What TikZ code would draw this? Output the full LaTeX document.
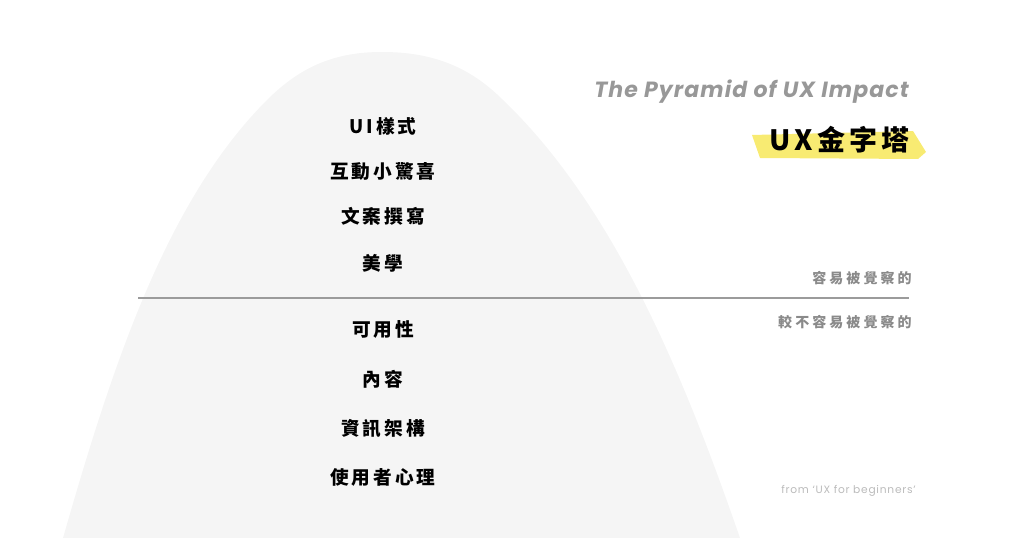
\documentclass[tikz,border=0pt]{standalone}
\usepackage{fontspec}
\usepackage{xcolor}
\usepackage{tikz}
\setmainfont{Poppins}
\newfontfamily\cjk{Noto Sans CJK TC}
\newfontfamily\titlefont{Poppins}
\definecolor{hillgray}{HTML}{F5F5F5}
\definecolor{rulegray}{HTML}{9B9B9B}
\definecolor{notegray}{HTML}{8A8A8A}
\definecolor{srcgray}{HTML}{BBBBBB}
\definecolor{titlegray}{HTML}{989898}
\definecolor{marker}{HTML}{F8EB72}

\begin{document}
\begin{tikzpicture}[
                x=0.75pt, y=-0.75pt,
                layer/.style={inner sep=0pt, font=\cjk\bfseries\fontsize{14}{16}\selectfont\addfontfeature{LetterSpace=16}},
                note/.style={inner sep=0pt, anchor=east, text=notegray, font=\cjk\bfseries\fontsize{10.5}{12}\selectfont\addfontfeature{LetterSpace=22}},
                heading/.style={inner sep=0pt, anchor=east, font=\cjk\bfseries\fontsize{21}{24}\selectfont\addfontfeature{LetterSpace=15}},
                subheading/.style={inner sep=0pt, anchor=east, text=titlegray, font=\titlefont\bfseries\itshape\fontsize{16.5}{19}\selectfont\addfontfeature{LetterSpace=5}}
            ]
            \useasboundingbox (0,0) rectangle (1024,538);
            % Hill
            \fill[hillgray] (63,538) .. controls (113,363) and (167,200) .. (267,100)
                .. controls (302,65) and (337,52) .. (382,52)
                .. controls (430,52) and (468,65) .. (503,100)
                .. controls (618,210) and (688,388) .. (740,538) -- cycle;
            % Marker stroke
            \fill[marker] (752,135) -- (913,131) -- (926,152) -- (918,159) -- (760,158) -- cycle;
            % Nodes
            \node[layer] (ui) at (383,126) {UI樣式};
            \node[layer] (delight) at (383,171) {互動小驚喜};
            \node[layer] (copy) at (383,216) {文案撰寫};
            \node[layer] (aesthetic) at (383,263) {美學};
            \node[layer] (usability) at (383,329) {可用性};
            \node[layer] (content) at (383,379) {內容};
            \node[layer] (ia) at (383,429) {資訊架構};
            \node[layer] (psych) at (383,477) {使用者心理};
            \node[subheading] (title) at (909,92) {The Pyramid of UX Impact};
            \node[heading] (uxtitle) at (910,140) {UX金字塔};
            \node[note] (visible) at (912,278) {容易被覺察的};
            \node[note] (hidden) at (912,322) {較不容易被覺察的};
            \node[inner sep=0pt, anchor=east, text=srcgray, font=\fontsize{8}{9}\selectfont\addfontfeature{LetterSpace=7}] (source) at (916,491) {from ‘UX for beginners’};
            % Divider
            \coordinate (divl) at (138,298);
            \coordinate (divr) at (909,298);
            \draw[rulegray, line width=1.5pt] (divl) -- (divr);
\end{tikzpicture}
\end{document}
